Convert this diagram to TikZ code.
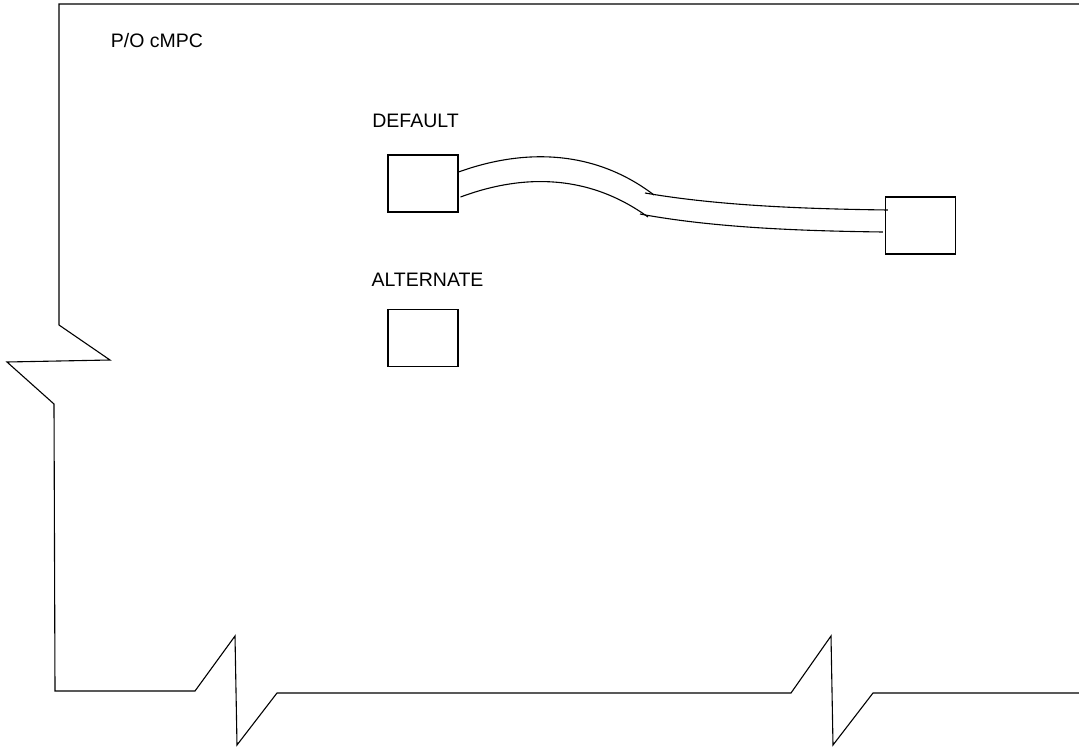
\documentclass[tikz,border=0pt]{standalone}
\usepackage{fontspec}
\setmainfont{Liberation Sans}
\usetikzlibrary{calc}

\begin{document}
\begin{tikzpicture}[
  x=1pt, y=-1pt,
  outline/.style={draw=black, line width=1.1pt},
  connbox/.style={draw=black, line width=1.1pt, minimum width=70pt, minimum height=57pt, inner sep=0pt},
  label/.style={font=\fontsize{19.5}{22}\selectfont, inner sep=0pt},
  wire/.style={draw=black, line width=1.1pt}
]
  \useasboundingbox (0,0) rectangle (1079,749);
  % board outline with break marks
  \draw[outline] (1079,4) -- (59,4) -- (59,325) -- (110,360) -- (7,362) -- (54,404) -- (55,691)
    -- (195,691) -- (235,636) -- (237,745) -- (277,693) -- (791,693) -- (831,636) -- (833,745)
    -- (873,693) -- (1079,693);
  \node[label] (board) at (157,41) {P/O cMPC};
  \node[label] (dfltlbl) at (415.5,120.5) {DEFAULT};
  \node[label] (altlbl) at (427.5,280) {ALTERNATE};
  \node[connbox] (dflt) at (423,183.5) {};
  \node[connbox] (alt) at (423,338) {};
  \node[connbox] (remote) at (920.5,225.5) {};
  \coordinate (jointa) at (654,195);
  \coordinate (jointb) at (648,217);
  % cable
  \draw[wire] ($(dflt.east)+(0,-11.5)$) .. controls (525,148) and (595,150) .. (jointa);
  \draw[wire] ($(jointa)+(-9,-2)$) .. controls (720,206) and (810,209) .. ($(remote.west)+(3,-15.5)$);
  \draw[wire] ($(dflt.east)+(2,13.5)$) .. controls (525,173) and (590,175) .. (jointb);
  \draw[wire] ($(jointb)+(-8,-3)$) .. controls (715,228) and (805,231) .. ($(remote.west)+(-2,6.5)$);
\end{tikzpicture}
\end{document}
